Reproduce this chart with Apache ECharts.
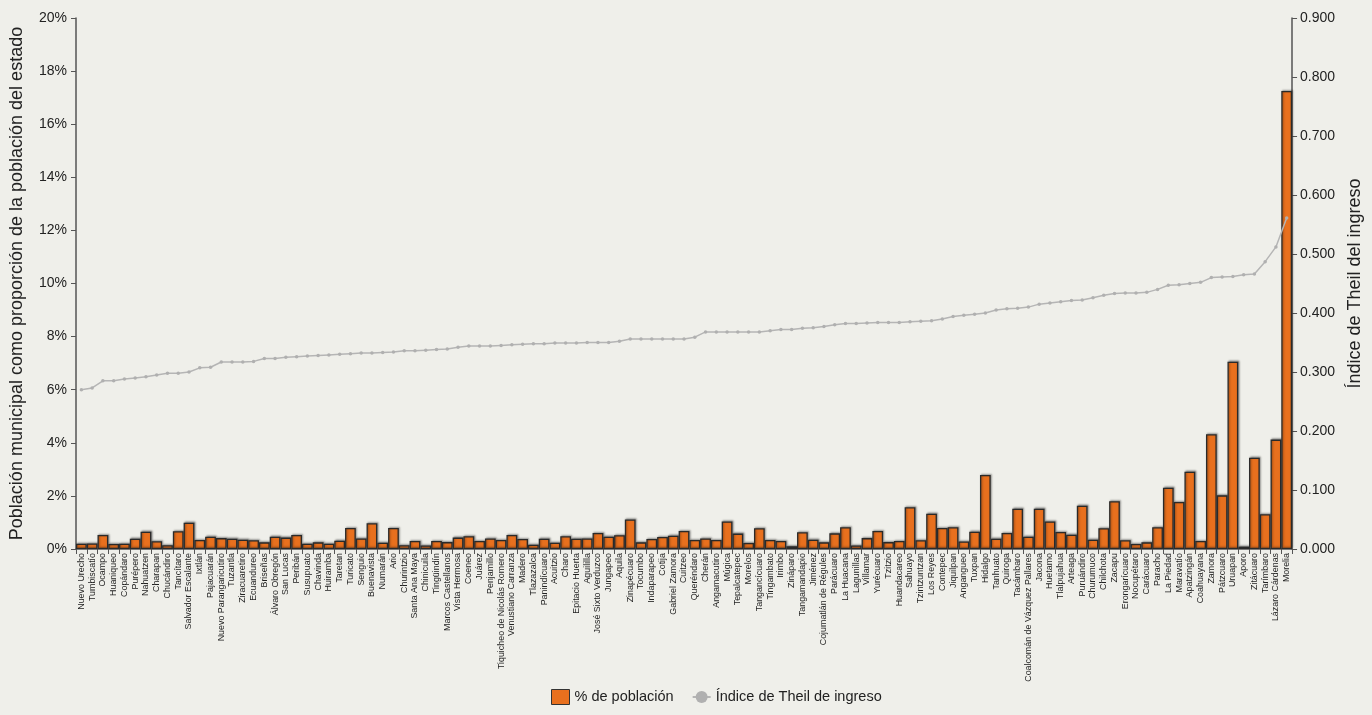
<!DOCTYPE html>
<html><head><meta charset="utf-8">
<script src="https://cdn.jsdelivr.net/npm/echarts@6/dist/echarts.min.js"></script>
<style>html,body{margin:0;padding:0;background:#efefea}#c{width:1372px;height:715px}</style>
</head><body><div id="c"></div>
<script>
const municipios = ["Nuevo Urecho","Tumbiscatío","Ocampo","Huaniqueo","Copándaro","Purépero","Nahuatzen","Charapan","Chucándiro","Tancítaro","Salvador Escalante","Ixtlán","Pajacuarán","Nuevo Parangaricutiro","Tuzantla","Ziracuaretiro","Ecuandureo","Briseñas","Álvaro Obregón","San Lucas","Peribán","Susupuato","Chavinda","Huiramba","Taretan","Turicato","Senguio","Buenavista","Numarán","Ario","Churintzio","Santa Ana Maya","Chinicuila","Tingüindín","Marcos Castellanos","Vista Hermosa","Coeneo","Juárez","Penjamillo","Tiquicheo de Nicolás Romero","Venustiano Carranza","Madero","Tlazazalca","Panindícuaro","Acuitzio","Charo","Epitacio Huerta","Aguililla","José Sixto Verduzco","Jungapeo","Aquila","Zinapécuaro","Tocumbo","Indaparapeo","Cotija","Gabriel Zamora","Cuitzeo","Queréndaro","Cherán","Angamacutiro","Múgica","Tepalcatepec","Morelos","Tangancícuaro","Tingambato","Irimbo","Zináparo","Tangamandapio","Jiménez","Cojumatlán de Régules","Parácuaro","La Huacana","Lagunillas","Villamar","Yurécuaro","Tzitzio","Huandacareo","Sahuayo","Tzintzuntzan","Los Reyes","Contepec","Jiquilpan","Angangueo","Tuxpan","Hidalgo","Tanhuato","Quiroga","Tacámbaro","Coalcomán de Vázquez Pallares","Jacona","Huetamo","Tlalpujahua","Arteaga","Puruándiro","Churumuco","Chilchota","Zacapu","Erongarícuaro","Nocupétaro","Carácuaro","Paracho","La Piedad","Maravatío","Apatzingán","Coahuayana","Zamora","Pátzcuaro","Uruapan","Aporo","Zitácuaro","Tarímbaro","Lázaro Cárdenas","Morelia"];

const poblacion = [0.20,0.21,0.53,0.19,0.20,0.39,0.65,0.29,0.14,0.67,
0.99,0.34,0.46,0.41,0.39,0.35,0.33,0.25,0.46,0.43,
0.53,0.20,0.25,0.20,0.31,0.79,0.40,0.97,0.24,0.79,
0.14,0.30,0.13,0.30,0.26,0.43,0.48,0.30,0.40,0.34,
0.53,0.38,0.16,0.39,0.24,0.48,0.39,0.40,0.60,0.46,
0.52,1.11,0.25,0.38,0.45,0.50,0.68,0.34,0.40,0.34,
1.04,0.58,0.23,0.78,0.34,0.30,0.10,0.63,0.35,0.25,
0.59,0.82,0.13,0.41,0.68,0.26,0.30,1.57,0.33,1.33,
0.79,0.82,0.28,0.65,2.79,0.39,0.60,1.52,0.46,1.52,
1.04,0.64,0.54,1.63,0.35,0.78,1.80,0.33,0.19,0.25,
0.82,2.31,1.77,2.91,0.30,4.32,2.02,7.05,0.09,3.44,
1.31,4.12,17.25];

const theil = [0.270,0.273,0.285,0.285,0.288,0.290,0.292,0.295,0.298,0.298,
0.300,0.307,0.308,0.317,0.317,0.317,0.318,0.323,0.323,0.325,
0.326,0.327,0.328,0.329,0.330,0.331,0.332,0.332,0.333,0.334,
0.336,0.336,0.337,0.338,0.339,0.342,0.344,0.344,0.344,0.345,
0.346,0.347,0.348,0.348,0.349,0.349,0.349,0.350,0.350,0.350,
0.352,0.356,0.356,0.356,0.356,0.356,0.356,0.359,0.368,0.368,
0.368,0.368,0.368,0.368,0.370,0.372,0.372,0.374,0.375,0.377,
0.380,0.382,0.382,0.383,0.384,0.384,0.384,0.385,0.386,0.387,
0.390,0.394,0.396,0.398,0.400,0.405,0.407,0.408,0.410,0.415,
0.417,0.419,0.421,0.422,0.426,0.430,0.433,0.434,0.434,0.435,
0.440,0.447,0.448,0.450,0.452,0.460,0.461,0.462,0.465,0.466,
0.487,0.512,0.561];

const leftTicks = {min:0, max:20, interval:2};
const rightTicks = {min:0, max:0.9, interval:0.1};

const chart = echarts.init(document.getElementById('c'), null, {renderer:'canvas'});
const font = 'Liberation Sans, Arial, sans-serif';
chart.setOption({
  backgroundColor:'#efefea',
  animation:false,
  grid:{left:74, right:63, top:18, bottom:166, containLabel:false},
  legend:{
    bottom:5, left:546, itemGap:18,
    textStyle:{fontFamily:font, fontSize:14.5, color:'#222'},
    data:[
      {name:'% de población', icon:'rect', itemStyle:{color:'#e8701e', borderColor:'#333', borderWidth:1}},
      {name:'Índice de Theil de ingreso'}
    ],
    itemWidth:18, itemHeight:15
  },
  xAxis:{
    type:'category', data:municipios,
    axisLine:{lineStyle:{color:'#555', width:1.5}},
    axisTick:{show:true, alignWithLabel:false, lineStyle:{color:'#555'}},
    axisLabel:{interval:0, rotate:90, fontFamily:font, fontSize:8.9, color:'#222', margin:4}
  },
  yAxis:[
    {type:'value', min:leftTicks.min, max:leftTicks.max, interval:leftTicks.interval,
     name:'Población municipal como proporción de la población del estado',
     nameLocation:'middle', nameGap:50,
     nameTextStyle:{fontFamily:font, fontSize:18, color:'#222'},
     axisLine:{show:true, lineStyle:{color:'#555', width:1.5}},
     axisTick:{show:true, length:5, lineStyle:{color:'#555'}},
     splitLine:{show:false},
     axisLabel:{formatter:v=>v+'%', fontFamily:font, fontSize:14, color:'#222', margin:9}},
    {type:'value', min:rightTicks.min, max:rightTicks.max, interval:rightTicks.interval, position:'right',
     name:'Índice de Theil del ingreso',
     nameLocation:'middle', nameGap:52, nameRotate:90,
     nameTextStyle:{fontFamily:font, fontSize:18, color:'#222'},
     axisLine:{show:true, lineStyle:{color:'#555', width:1.5}},
     axisTick:{show:true, length:5, lineStyle:{color:'#555'}},
     splitLine:{show:false},
     axisLabel:{formatter:v=>v.toFixed(3), fontFamily:font, fontSize:14, color:'#222', margin:8}}
  ],
  series:[
    {name:'% de población', type:'bar', yAxisIndex:0, data:poblacion,
     barCategoryGap:'0%',
     itemStyle:{color:'#e8701e', borderColor:'#2a2a2a', borderWidth:1.3,
       shadowColor:'rgba(0,0,0,0.35)', shadowBlur:2, shadowOffsetX:1, shadowOffsetY:-1}},
    {name:'Índice de Theil de ingreso', type:'line', yAxisIndex:1, data:theil,
     symbol:'circle', symbolSize:3.5, showSymbol:true,
     lineStyle:{color:'#b5b5b5', width:1.5},
     itemStyle:{color:'#b0b0b0'}, z:5}
  ]
});
</script></body></html>
